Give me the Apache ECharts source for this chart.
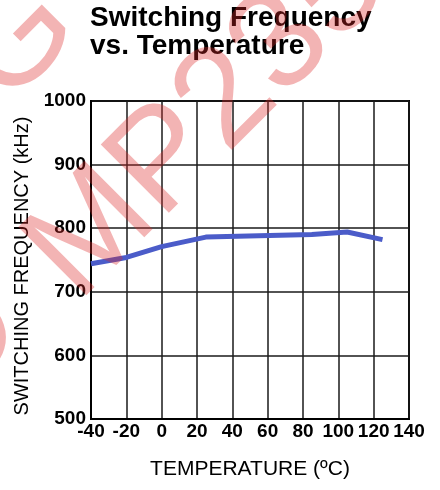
<!DOCTYPE html>
<html>
<head>
<meta charset="utf-8">
<script src="https://cdn.jsdelivr.net/npm/echarts@6/dist/echarts.min.js"></script>
<style>
html,body{margin:0;padding:0;background:#fff;}
#chart{width:440px;height:490px;}
</style>
</head>
<body>
<div id="chart"></div>
<script>
// Data
const temperatures = [-40, -20, 0, 25, 85, 105, 125];
const frequencies = [744, 754, 771, 786, 790, 794, 782];
const titleLines = ['Switching Frequency', 'vs. Temperature'];
const xName = 'TEMPERATURE (ºC)';
const yName = 'SWITCHING FREQUENCY (kHz)';
const watermarkParts = ['O', 'MP2359', 'G'];

const FONT = 'Liberation Sans, Arial, sans-serif';
const chart = echarts.init(document.getElementById('chart'), null, {renderer: 'canvas'});

const wmStyle = (t) => ({
  text: t,
  fontFamily: FONT,
  fontSize: 140,
  fill: 'rgba(220,40,40,0.35)',
  verticalAlign: 'middle',
  align: 'left'
});

const option = {
  backgroundColor: '#fff',
  animation: false,
  title: {
    text: titleLines.join('\n'),
    left: 90,
    top: 4,
    padding: 0,
    textStyle: {fontFamily: FONT, fontSize: 28, fontWeight: 'bold', color: '#000', lineHeight: 28}
  },
  grid: {left: 91, right: 31, top: 101, bottom: 71, show: true, borderColor: '#000', borderWidth: 2, backgroundColor: 'transparent'},
  xAxis: {
    type: 'value', min: -40, max: 140, interval: 20,
    name: xName, nameLocation: 'middle', nameGap: 40,
    nameTextStyle: {fontFamily: FONT, fontSize: 21, color: '#000'},
    axisLine: {show: true, onZero: false, lineStyle: {color: '#000', width: 2}},
    axisTick: {show: false},
    axisLabel: {fontFamily: FONT, fontSize: 19, fontWeight: 'bold', color: '#000', margin: 3},
    splitLine: {show: true, lineStyle: {color: '#1a1a1a', width: 1.5}}
  },
  yAxis: {
    type: 'value', min: 500, max: 1000, interval: 100,
    name: yName, nameLocation: 'middle', nameGap: 49,
    nameTextStyle: {fontFamily: FONT, fontSize: 20, color: '#000', padding: [0, 12, 0, 0]},
    axisLine: {show: true, onZero: false, lineStyle: {color: '#000', width: 2}},
    axisTick: {show: false},
    axisLabel: {fontFamily: FONT, fontSize: 19, fontWeight: 'bold', color: '#000', margin: 5, formatter: (v) => String(v)},
    splitLine: {show: true, lineStyle: {color: '#1a1a1a', width: 1.5}}
  },
  series: [{
    type: 'line',
    data: temperatures.map((t, i) => [t, frequencies[i]]),
    showSymbol: false,
    lineStyle: {color: '#4b5cc9', width: 5},
    z: 3
  }],
  graphic: [{
    type: 'text', x: -76, y: 381, rotation: Math.PI / 4, silent: true, z: 100,
    style: wmStyle(watermarkParts[0])
  }, {
    type: 'text', x: 51, y: 276, rotation: Math.PI / 4, silent: true, z: 100,
    style: wmStyle(watermarkParts[1])
  }, {
    type: 'text', x: -21, y: 81, rotation: Math.PI / 4, silent: true, z: 100,
    style: wmStyle(watermarkParts[2])
  }]
};
chart.setOption(option);
</script>
</body>
</html>
